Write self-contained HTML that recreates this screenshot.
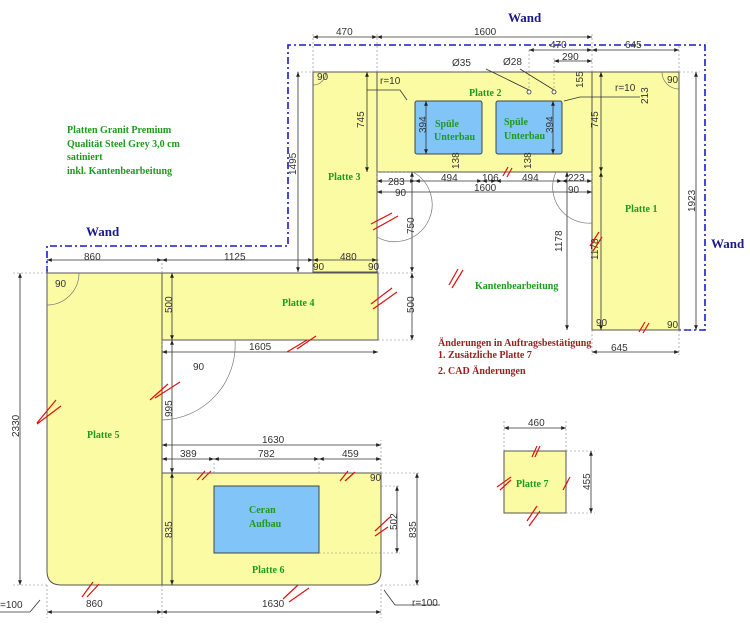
<!DOCTYPE html>
<html><head><meta charset="utf-8"><style>
html,body{margin:0;padding:0;background:#fff}
svg{display:block}
.d{font-family:"Liberation Sans",sans-serif;font-size:10px;fill:#333}
.g{font-family:"Liberation Serif",serif;font-size:10px;font-weight:bold;fill:#1e9a1e}
.r{font-family:"Liberation Serif",serif;font-size:10px;font-weight:bold;fill:#9a1e1e}
.w{font-family:"Liberation Serif",serif;font-size:13px;font-weight:bold;fill:#1a1a8a}
.p{fill:#fbfba4;stroke:#555;stroke-width:1}
.s{fill:#80c4f8;stroke:#444;stroke-width:1}
.dl{stroke:#333;stroke-width:.8;fill:none}
.ext{stroke:#888;stroke-width:.6;stroke-dasharray:2,2;fill:none}
.wall{stroke:#1a1acc;stroke-width:1.6;stroke-dasharray:7,3,2,3;fill:none}
.rr{stroke:#e01010;stroke-width:1.2}
.arc{stroke:#777;stroke-width:.7;fill:none}
</style></head><body>
<svg width="750" height="633" viewBox="0 0 750 633" xmlns="http://www.w3.org/2000/svg">
<defs>
<marker id="a" viewBox="0 0 10 10" refX="10" refY="5" markerWidth="8" markerHeight="6" orient="auto-start-reverse"><path d="M0,1 L10,5 L0,9z" fill="#222"/></marker>
</defs>
<path class="wall" d="M47,273 V246 H288 V45 H705 V330 H679"/>
<text class="w" x="508" y="22">Wand</text>
<text class="w" x="711" y="248">Wand</text>
<text class="w" x="86" y="236">Wand</text>
<rect class="p" x="313" y="72" width="64" height="200"/>
<rect class="p" x="377" y="72" width="215" height="100"/>
<rect class="p" x="592" y="72" width="87" height="258"/>
<rect class="p" x="162" y="273" width="216" height="67"/>
<path class="p" d="M47,273 H162 V585 H61 Q47,585 47,571 Z"/>
<path class="p" d="M162,473 H381 V571 Q381,585 367,585 H162 Z"/>
<rect class="p" x="504" y="451" width="62" height="62"/>
<rect class="s" x="415" y="101" width="67" height="53" rx="2"/>
<rect class="s" x="496" y="101" width="66" height="53" rx="2"/>
<rect class="s" x="214" y="486" width="105" height="67"/>
<text class="g" x="469" y="96">Platte 2</text>
<text class="g" x="328" y="180">Platte 3</text>
<text class="g" x="625" y="212">Platte 1</text>
<text class="g" x="282" y="306">Platte 4</text>
<text class="g" x="87" y="438">Platte 5</text>
<text class="g" x="252" y="573">Platte 6</text>
<text class="g" x="516" y="487">Platte 7</text>
<text class="g" x="435" y="127">Spüle</text><text class="g" x="434" y="140">Unterbau</text>
<text class="g" x="504" y="125">Spüle</text><text class="g" x="504" y="139">Unterbau</text>
<text class="g" x="249" y="513">Ceran</text><text class="g" x="249" y="527">Aufbau</text>
<text class="g" x="475" y="289">Kantenbearbeitung</text>
<text class="g" x="67" y="133">Platten Granit Premium</text>
<text class="g" x="67" y="147">Qualität Steel Grey 3,0 cm</text>
<text class="g" x="67" y="160">satiniert</text>
<text class="g" x="67" y="174">inkl. Kantenbearbeitung</text>
<text class="r" x="438" y="346">Änderungen in Auftragsbestätigung</text>
<text class="r" x="438" y="358">1. Zusätzliche Platte 7</text>
<text class="r" x="438" y="374">2. CAD Änderungen</text>
<path class="ext" d="M313,72 V32 M377,72 V32 M592,72 V32 M592,72 V40 M679,72 V45 M529,50 V90 M554,58 V90 M297,72 H313 M679,72 H700 M679,330 H700 M592,330 V355 M679,330 V355 M47,273 V258 M162,273 V258 M378,273 V258 M47,273 H12 M47,585 H12 M162,585 V618 M381,585 V618 M47,585 V618 M381,473 H420 M381,585 H420 M319,553 H400 M381,486 H400 M378,340 H415 M378,273 H415 M377,172 H415 M504,451 V420 M566,451 V420 M566,451 H595 M566,513 H595 M162,340 V350 M214,473 V462 M319,473 V462 M381,473 V440 M592,172 V185 M377,172 V185"/>
<g class="dl" marker-start="url(#a)" marker-end="url(#a)">
<line x1="313" y1="37" x2="377" y2="37"/>
<line x1="377" y1="37" x2="592" y2="37"/>
<line x1="529" y1="50" x2="592" y2="50"/>
<line x1="592" y1="50" x2="679" y2="50"/>
<line x1="554" y1="61" x2="592" y2="61"/>
<line x1="298" y1="72" x2="298" y2="272"/>
<line x1="367" y1="72" x2="367" y2="172"/>
<line x1="412" y1="172" x2="412" y2="272"/>
<line x1="412" y1="273" x2="412" y2="340"/>
<line x1="601" y1="72" x2="601" y2="172"/>
<line x1="601" y1="172" x2="601" y2="330"/>
<line x1="567" y1="172" x2="567" y2="330"/>
<line x1="696" y1="72" x2="696" y2="330"/>
<line x1="377" y1="181" x2="415" y2="181"/>
<line x1="415" y1="181" x2="482" y2="181"/>
<line x1="482" y1="181" x2="496" y2="181"/>
<line x1="496" y1="181" x2="562" y2="181"/>
<line x1="562" y1="181" x2="592" y2="181"/>
<line x1="377" y1="192" x2="592" y2="192"/>
<line x1="313" y1="260" x2="377" y2="260"/>
<line x1="47" y1="260" x2="162" y2="260"/>
<line x1="162" y1="260" x2="313" y2="260"/>
<line x1="592" y1="352" x2="679" y2="352"/>
<line x1="20" y1="273" x2="20" y2="585"/>
<line x1="172" y1="273" x2="172" y2="340"/>
<line x1="172" y1="340" x2="172" y2="473"/>
<line x1="162" y1="352" x2="378" y2="352"/>
<line x1="162" y1="445" x2="381" y2="445"/>
<line x1="162" y1="459" x2="214" y2="459"/>
<line x1="214" y1="459" x2="319" y2="459"/>
<line x1="319" y1="459" x2="381" y2="459"/>
<line x1="172" y1="473" x2="172" y2="585"/>
<line x1="397" y1="486" x2="397" y2="553"/>
<line x1="417" y1="473" x2="417" y2="585"/>
<line x1="47" y1="612" x2="162" y2="612"/>
<line x1="162" y1="612" x2="381" y2="612"/>
<line x1="504" y1="428" x2="566" y2="428"/>
<line x1="591" y1="451" x2="591" y2="513"/>
<line x1="426" y1="101" x2="426" y2="154"/>
<line x1="553" y1="101" x2="553" y2="154"/>
</g>
<path class="dl" d="M367,90 H400 L407,100 M640,97 H580 L564,101 M40,600 L30,612 H0 M384,590 L395,605 H440 M486,69 L529,90 M520,69 L554,90" />
<circle cx="529" cy="92" r="2" fill="#fff" stroke="#333" stroke-width=".8"/>
<circle cx="554" cy="92" r="2" fill="#fff" stroke="#333" stroke-width=".8"/>
<path class="arc" d="M413,172 A36,36 0 0 1 377,237 M556,172 A36,36 0 0 0 592,223 M235,340 A75,75 0 0 1 162,420 M47,305 A32,32 0 0 0 79,273 M326,72 A13,13 0 0 1 313,85 M662,72 A17,17 0 0 0 679,89"/>
<g class="d">
<text x="336" y="35">470</text><text x="474" y="35">1600</text>
<text x="550" y="48">470</text><text x="625" y="48">645</text>
<text x="562" y="60">290</text>
<text x="452" y="66">Ø35</text><text x="503" y="65">Ø28</text>
<text x="380" y="84">r=10</text><text x="615" y="91">r=10</text>
<text x="388" y="185">283</text><text x="441" y="181">494</text><text x="482" y="181">106</text><text x="522" y="181">494</text><text x="568" y="181">223</text>
<text x="474" y="191">1600</text>
<text x="395" y="196">90</text><text x="568" y="193">90</text>
<text x="340" y="260">480</text>
<text x="84" y="260">860</text><text x="224" y="260">1125</text>
<text x="611" y="351">645</text>
<text x="249" y="350">1605</text>
<text x="193" y="370">90</text>
<text x="262" y="443">1630</text>
<text x="180" y="457">389</text><text x="258" y="457">782</text><text x="342" y="457">459</text>
<text x="86" y="607">860</text><text x="262" y="607">1630</text>
<text x="0" y="608">=100</text><text x="412" y="606">r=100</text>
<text x="528" y="426">460</text>
<text x="55" y="287">90</text><text x="317" y="80">90</text><text x="667" y="83">90</text>
<text x="313" y="270">90</text><text x="368" y="270">90</text>
<text x="596" y="326">90</text><text x="667" y="328">90</text><text x="370" y="481">90</text>
</g>
<g class="d">
<text transform="translate(364,128) rotate(-90)">745</text>
<text transform="translate(296,175) rotate(-90)">1495</text>
<text transform="translate(598,128) rotate(-90)">745</text>
<text transform="translate(562,252) rotate(-90)">1178</text>
<text transform="translate(598,260) rotate(-90)">1178</text>
<text transform="translate(695,212) rotate(-90)">1923</text>
<text transform="translate(414,234) rotate(-90)">750</text>
<text transform="translate(414,313) rotate(-90)">500</text>
<text transform="translate(172,313) rotate(-90)">500</text>
<text transform="translate(172,417) rotate(-90)">995</text>
<text transform="translate(19,437) rotate(-90)">2330</text>
<text transform="translate(172,538) rotate(-90)">835</text>
<text transform="translate(397,530) rotate(-90)">502</text>
<text transform="translate(416,538) rotate(-90)">835</text>
<text transform="translate(590,490) rotate(-90)">455</text>
<text transform="translate(426,133) rotate(-90)">394</text>
<text transform="translate(553,133) rotate(-90)">394</text>
<text transform="translate(459,169) rotate(-90)">138</text>
<text transform="translate(531,169) rotate(-90)">138</text>
<text transform="translate(583,88) rotate(-90)">155</text>
<text transform="translate(648,104) rotate(-90)">213</text>
</g>
<g class="rr">
<path d="M371,224 L392,213 M373,230 L398,216 M371,304 L392,288 M373,309 L397,292 M449,285 L458,269 M452,288 L463,270 M503,176 L508,167 M507,177 L512,168 M590,246 L599,232 M593,251 L602,237 M639,332 L645,322 M643,333 L649,323 M287,352 L307,340 M297,349 L316,336 M150,400 L168,384 M155,398 L180,382 M37,423 L56,400 M37,424 L61,406 M197,480 L205,471 M202,480 L211,471 M340,481 L348,471 M345,481 L355,472 M375,531 L390,517 M375,536 L388,527 M82,597 L93,582 M87,597 L99,584 M283,599 L298,585 M289,602 L309,588 M532,457 L537,446 M535,457 L540,446 M497,487 L511,477 M500,490 L511,480 M563,490 L568,481 M565,486 L570,477 M527,521 L537,506 M529,526 L540,511"/>
</g>
</svg>
</body></html>
